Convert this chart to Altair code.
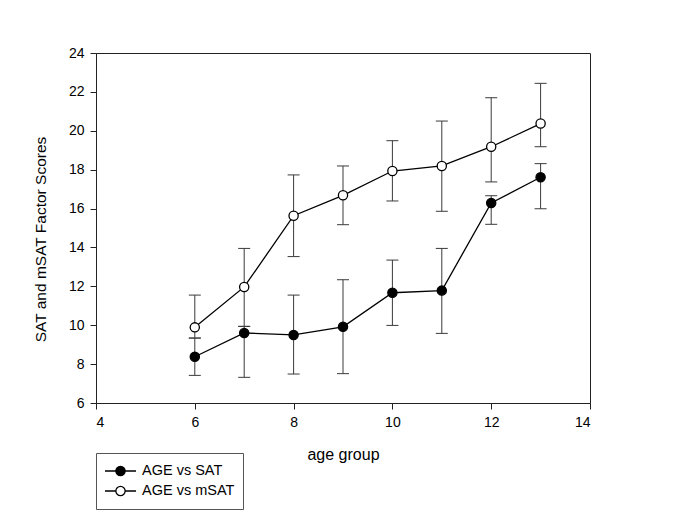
import altair as alt
import pandas as pd

# ---- data ----
ages = [6, 7, 8, 9, 10, 11, 12, 13]

sat_mean = [8.38, 9.60, 9.50, 9.92, 11.67, 11.78, 16.29, 17.61]
sat_low = [7.42, 7.32, 7.49, 7.51, 9.99, 9.58, 15.19, 15.99]
sat_high = [9.34, 9.94, 11.55, 12.34, 13.35, 13.95, 16.66, 18.31]

msat_mean = [9.89, 11.97, 15.63, 16.68, 17.93, 18.19, 19.18, 20.37]
msat_low = [9.34, 9.94, 13.53, 15.17, 16.39, 15.86, 17.37, 19.18]
msat_high = [11.55, 13.95, 17.73, 18.19, 19.49, 20.50, 21.70, 22.44]

series_names = ["AGE vs SAT", "AGE vs mSAT"]

x_ticks = [4, 6, 8, 10, 12, 14]
y_ticks = [6, 8, 10, 12, 14, 16, 18, 20, 22, 24]

x_title = "age group"
y_title = "SAT and mSAT Factor Scores"

# ---- table ----
rows = []
for name, m, lo, hi in [
    (series_names[0], sat_mean, sat_low, sat_high),
    (series_names[1], msat_mean, msat_low, msat_high),
]:
    for a, mv, lv, hv in zip(ages, m, lo, hi):
        rows.append({"age": a, "score": mv, "low": lv, "high": hv, "series": name})
df = pd.DataFrame(rows)

FONT = "Liberation Sans"

x_axis = alt.Axis(
    values=x_ticks, title=x_title, titlePadding=17, labelPadding=6,
    labelOverlap=False, labelFontSize=14, labelFont=FONT, labelColor="black",
    titleFont=FONT, titleFontSize=16, titleFontWeight="normal", titleColor="black",
    tickSize=6, tickColor="#222222", domainColor="#222222", grid=False,
)
y_axis = alt.Axis(
    values=y_ticks, title=y_title, titlePadding=20, labelPadding=6,
    labelOverlap=False, titleY=186, labelFontSize=14, labelFont=FONT, labelColor="black",
    titleFont=FONT, titleFontSize=15.5, titleFontWeight="normal", titleColor="black",
    tickSize=6, tickColor="#222222", domainColor="#222222", grid=False,
)
x_scale = alt.Scale(domain=[4, 14], nice=False, zero=False)
y_scale = alt.Scale(domain=[6, 24], nice=False, zero=False)


def X():
    return alt.X("age:Q", scale=x_scale, axis=x_axis)


def Y(field):
    return alt.Y(f"{field}:Q", scale=y_scale, axis=y_axis)


base = alt.Chart(df)

lines = base.mark_line(color="black", strokeWidth=1.3).encode(
    x=X(), y=Y("score"), detail="series:N"
)
err_rule = base.mark_rule(color="#3a3a3a", strokeWidth=1).encode(
    x=X(), y=Y("low"), y2="high:Q"
)
cap_low = base.mark_tick(orient="horizontal", size=12, thickness=1, color="#3a3a3a", opacity=1).encode(
    x=X(), y=Y("low")
)
cap_high = base.mark_tick(orient="horizontal", size=12, thickness=1, color="#3a3a3a", opacity=1).encode(
    x=X(), y=Y("high")
)

legend_symbol = (
    "M-1,0L-0.3,0M0.3,0L1,0"
    "M-0.3,0A0.3,0.3 0 1,1 0.3,0A0.3,0.3 0 1,1 -0.3,0Z"
)

points = base.mark_point(
    shape="circle", size=85, filled=True, stroke="black", strokeWidth=1.3, opacity=1
).encode(
    x=X(),
    y=Y("score"),
    fill=alt.Fill(
        "series:N",
        scale=alt.Scale(domain=series_names, range=["black", "white"]),
        legend=alt.Legend(
            title=None,
            orient="none",
            legendX=0,
            legendY=400,
            direction="vertical",
            symbolType=legend_symbol,
            symbolSize=961,
            symbolStrokeColor="black",
            symbolStrokeWidth=1.3,
            symbolOpacity=1,
            clipHeight=20,
            rowPadding=0,
            padding=8,
            labelOffset=5,
            labelFont=FONT,
            labelFontSize=14.5,
            labelColor="black",
            strokeColor="#555555",
        ),
    ),
)

chart = (
    alt.layer(lines, err_rule, cap_low, cap_high, points)
    .properties(
        width=494,
        height=350,
        autosize=alt.AutoSizeParams(type="none"),
        padding={"left": 88, "top": 45, "right": 87, "bottom": 108},
    )
    .configure_view(stroke="#222222", strokeWidth=1)
)

chart.save("out.html", embed_options={"renderer": "svg", "actions": False})
